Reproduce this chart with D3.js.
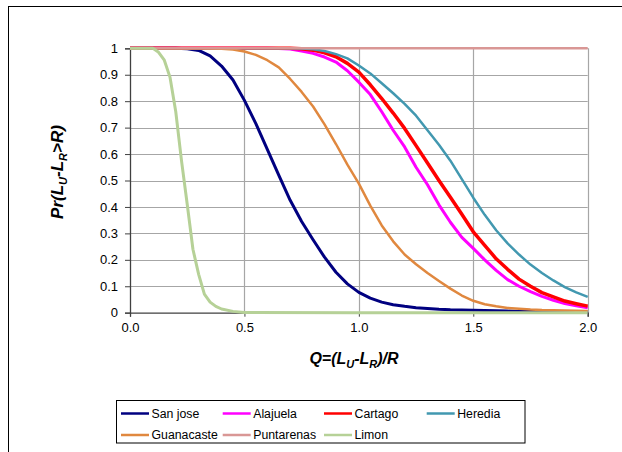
<!DOCTYPE html>
<html><head><meta charset="utf-8">
<script src="https://cdn.jsdelivr.net/npm/d3@7"></script>
<style>body{margin:0;background:#fff;}svg{display:block;}</style>
</head><body>
<script>
// ---- data ----
const qGrid = [0,0.05,0.1,0.15,0.2,0.25,0.3,0.35,0.4,0.45,0.5,0.55,0.6,0.65,0.7,0.75,0.8,0.85,0.9,0.95,1.0,
  1.05,1.1,1.15,1.2,1.25,1.3,1.35,1.4,1.45,1.5,1.55,1.6,1.65,1.7,1.75,1.8,1.85,1.9,1.95,2.0];
const sanJose = [1,1,1,1,1,0.998,0.992,0.971,0.933,0.88,0.803,0.715,0.618,0.52,0.425,0.345,0.276,0.21,0.153,0.109,0.077,
  0.055,0.04,0.03,0.024,0.019,0.016,0.013,0.011,0.01,0.009,0.008,0.007,0.006,0.005,0.005,0.004,0.004,0.003,0.003,0.003];
const alajuela = [1,1,1,1,1,1,1,1,1,1,1,1,1,0.999,0.997,0.99,0.981,0.967,0.948,0.915,0.872,
  0.825,0.76,0.69,0.627,0.55,0.484,0.408,0.342,0.285,0.243,0.2,0.16,0.125,0.1,0.08,0.062,0.047,0.035,0.026,0.019];
const cartago = [1,1,1,1,1,1,1,1,1,1,1,1,1,1,1,0.998,0.993,0.983,0.968,0.943,0.91,
  0.862,0.81,0.755,0.697,0.632,0.566,0.5,0.437,0.372,0.306,0.255,0.204,0.164,0.127,0.1,0.076,0.06,0.044,0.034,0.025];
const heredia = [1,1,1,1,1,1,1,1,1,1,1,1,1,1,1,0.999,0.996,0.99,0.978,0.962,0.935,
  0.905,0.868,0.83,0.79,0.745,0.69,0.635,0.575,0.505,0.435,0.37,0.312,0.262,0.22,0.182,0.15,0.122,0.097,0.077,0.06];
const guanacaste = [1,1,1,1,1,1,1,0.999,0.998,0.995,0.988,0.975,0.955,0.928,0.884,0.835,0.78,0.712,0.638,0.56,0.488,
  0.405,0.33,0.27,0.22,0.183,0.15,0.12,0.091,0.065,0.045,0.032,0.024,0.018,0.015,0.012,0.01,0.009,0.008,0.007,0.006];
const puntarenas = [1,1,1,1,1,1,1,1,1,1,1,1,1,1,1,1,1,1,1,1,1,1,1,1,1,1,1,1,1,1,1,1,1,1,1,1,1,1,1,1,1];
const qLimon = [0,0.05,0.1,0.125,0.15,0.175,0.2,0.225,0.25,0.275,0.3,0.325,0.35,0.375,0.4,0.45,0.5,1.0,1.5,2.0];
const limon = [1,1,1,0.985,0.955,0.89,0.76,0.575,0.41,0.24,0.145,0.07,0.04,0.024,0.014,0.005,0.001,0,0,0];

const seriesNames = ["San jose","Alajuela","Cartago","Heredia","Guanacaste","Puntarenas","Limon"];
const seriesColors = ["#000080","#ff00ff","#ff0000","#4298b0","#e0883f","#d99795","#b6d197"];
const seriesWidths = [3,3,3.5,2.5,2.5,2.5,3];
const seriesX = [qGrid,qGrid,qGrid,qGrid,qGrid,qGrid,qLimon];
const seriesY = [sanJose,alajuela,cartago,heredia,guanacaste,puntarenas,limon];
const xTicks = [0,0.5,1.0,1.5,2.0];
const yTicks = [0,0.1,0.2,0.3,0.4,0.5,0.6,0.7,0.8,0.9,1];

// ---- layout ----
const W = 622, H = 452;
const svg = d3.select("body").append("svg").attr("width",W).attr("height",H);
svg.append("rect").attr("x",8.5).attr("y",6.5).attr("width",W).attr("height",H).attr("fill","#fff").attr("stroke","#000").attr("stroke-width",1);

const x = d3.scaleLinear().domain([0,2]).range([130,587.7]);
const y = d3.scaleLinear().domain([0,1]).range([312.7,48.3]);
const font = "'Liberation Sans', Arial, sans-serif";

// gridlines
const g = svg.append("g");
g.selectAll("line.h").data(yTicks.filter(d=>d>0)).enter().append("line")
  .attr("x1",x(0)).attr("x2",x(2)).attr("y1",d=>Math.round(y(d))+0.5).attr("y2",d=>Math.round(y(d))+0.5)
  .attr("stroke","#a6a6a6").attr("stroke-width",1.2);
g.selectAll("line.v").data(xTicks.filter(d=>d>0)).enter().append("line")
  .attr("x1",d=>Math.round(x(d))+0.5).attr("x2",d=>Math.round(x(d))+0.5).attr("y1",y(0)).attr("y2",y(1))
  .attr("stroke","#a6a6a6").attr("stroke-width",1.2);

// axes
const xAxis = d3.axisBottom(x).tickValues(xTicks).tickFormat(d3.format(".1f")).tickSize(4).tickPadding(6);
const yAxis = d3.axisLeft(y).tickValues(yTicks).tickFormat(d=>d===0?"0":d===1?"1":d3.format(".1f")(d)).tickSize(5).tickPadding(7);
const gx = svg.append("g").attr("transform",`translate(0,${y(0)})`).call(xAxis);
const gy = svg.append("g").attr("transform",`translate(${x(0)},0)`).call(yAxis);
[gx,gy].forEach(a=>{
  a.selectAll("path.domain").attr("stroke","#404040").attr("stroke-width",1.3);
  a.selectAll(".tick line").attr("stroke","#404040");
  a.selectAll("text").attr("font-family",font).attr("font-size",13).attr("fill","#000");
});

// lines
const line = d3.line().x(d=>x(d[0])).y(d=>y(d[1]));
seriesNames.forEach((n,i)=>{
  const pts = seriesX[i].map((q,j)=>[q,seriesY[i][j]]);
  svg.append("path").datum(pts).attr("d",line).attr("fill","none")
    .attr("stroke",seriesColors[i]).attr("stroke-width",seriesWidths[i]).attr("stroke-linejoin","round");
});

// axis titles
function title(t, parts){
  parts.forEach(p=>{
    const ts = t.append("tspan").text(p[0]);
    if(p[1]===1){ ts.attr("font-size",11).attr("dy",4); }
    else if(p[1]===-1){ ts.attr("dy",-4); }
  });
}
const yt = svg.append("text").attr("transform","translate(63,172) rotate(-90)").attr("text-anchor","middle")
  .attr("font-family",font).attr("font-size",17).attr("font-weight","bold").attr("font-style","italic");
title(yt,[["Pr(L",0],["U",1],["-L",-1],["R",1],[">R)",-1]]);
const xt = svg.append("text").attr("x",354).attr("y",364).attr("text-anchor","middle")
  .attr("font-family",font).attr("font-size",16).attr("font-weight","bold").attr("font-style","italic");
title(xt,[["Q=(L",0],["U",1],["-L",-1],["R",1],[")/R",-1]]);

// legend
const leg = svg.append("g");
leg.append("rect").attr("x",116.5).attr("y",400.5).attr("width",408.5).attr("height",42.5)
  .attr("fill","#fff").attr("stroke","#000").attr("stroke-width",1);
const colX = [121,222.7,324,426.7];
const rowY = [413.5,435];
seriesNames.forEach((n,i)=>{
  const cx = colX[i%4], cy = rowY[Math.floor(i/4)];
  leg.append("line").attr("x1",cx).attr("x2",cx+28).attr("y1",cy).attr("y2",cy)
    .attr("stroke",seriesColors[i]).attr("stroke-width",2.5);
  leg.append("text").attr("x",cx+30.5).attr("y",cy).attr("dy","0.35em").text(n)
    .attr("font-family",font).attr("font-size",12.3).attr("fill","#000");
});
</script>
</body></html>
